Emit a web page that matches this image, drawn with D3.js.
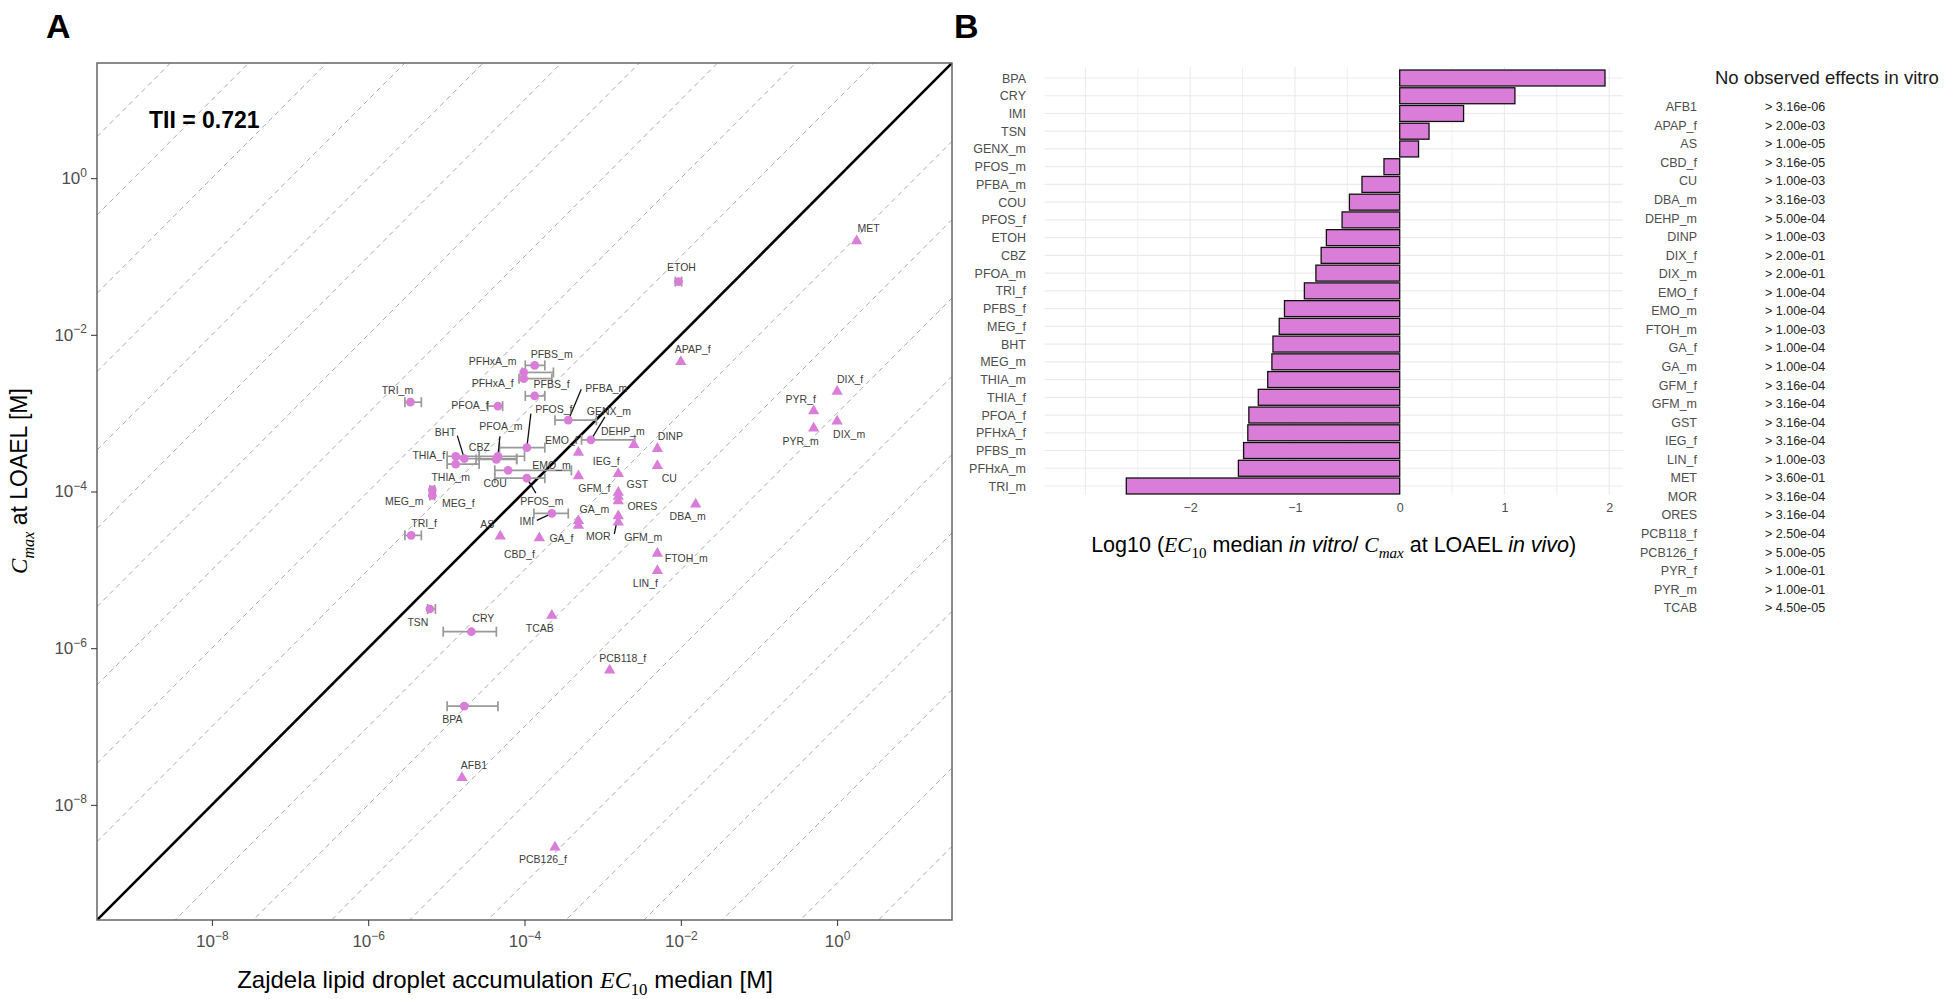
<!DOCTYPE html>
<html>
<head>
<meta charset="utf-8">
<script src="https://cdn.jsdelivr.net/npm/d3@7"></script>
<style>
  body { margin: 0; background: #fff; }
  svg { display: block; font-family: "Liberation Sans", Arial, sans-serif; }
</style>
</head>
<body>
<svg id="chart" width="1944" height="999"></svg>
<script>
/* ---- 数据：A 面板（log10 值，读图所得） ---- */
// 有体外效应的物质：圆点 + 水平误差线
const circleNames = ["TRI_m","PFOA_f","PFBS_m","PFHxA_m","PFHxA_f","PFBS_f","PFBA_m","PFOS_f","GENX_m",
  "PFOA_m","CBZ","BHT","THIA_f","THIA_m","COU","PFOS_m","MEG_m","MEG_f","TRI_f","IMI","ETOH","TSN","CRY","BPA"];
const circleEC10 = [-5.46,-4.34,-3.87,-4.01,-4.01,-3.87,-3.44,-3.97,-3.15,
  -4.34,-4.36,-4.77,-4.88,-4.88,-4.21,-3.97,-5.18,-5.18,-5.45,-3.65,-2.03,-5.21,-4.68,-4.77];
const circleCmax = [-2.86,-2.91,-2.39,-2.48,-2.56,-2.78,-3.09,-3.44,-3.34,
  -3.55,-3.59,-3.58,-3.55,-3.65,-3.73,-3.83,-3.98,-4.05,-4.56,-4.28,-1.32,-5.50,-5.79,-6.74];
const circleLow = [-5.53,-4.47,-3.99,-4.03,-4.07,-3.99,-3.61,-4.32,-3.27,
  -4.58,-4.62,-4.87,-4.99,-4.99,-4.38,-4.38,-5.21,-5.21,-5.53,-3.88,-2.07,-5.24,-5.04,-4.99];
const circleHigh = [-5.32,-4.28,-3.74,-3.63,-3.65,-3.74,-3.08,-3.74,-2.59,
  -4.00,-4.10,-4.10,-4.58,-4.58,-3.40,-3.74,-5.15,-5.15,-5.32,-3.44,-1.99,-5.14,-4.36,-4.34];

// 无体外效应的物质：三角
const triNames = ["AFB1","APAP_f","AS","CBD_f","CU","DBA_m","DEHP_m","DINP","DIX_f","DIX_m","EMO_f","EMO_m",
  "FTOH_m","GA_f","GA_m","GFM_f","GFM_m","GST","IEG_f","LIN_f","MET","MOR","ORES","PCB118_f","PCB126_f",
  "PYR_f","PYR_m","TCAB"];
const triEC10 = [-4.80,-2.00,-4.31,-3.81,-2.30,-1.81,-2.60,-2.30,0.00,0.00,-3.31,-3.31,
  -2.30,-3.31,-3.31,-2.80,-2.80,-2.80,-2.80,-2.30,0.25,-2.80,-2.80,-2.91,-3.61,
  -0.30,-0.30,-3.65];
const triCmax = [-7.64,-2.33,-4.56,-4.58,-3.66,-4.15,-3.39,-3.44,-2.71,-3.09,-3.49,-3.79,
  -4.78,-4.42,-4.36,-4.05,-4.38,-4.00,-3.76,-5.00,-0.79,-4.30,-4.11,-6.27,-8.53,
  -2.96,-3.18,-5.57];

const tiiText = "TII = 0.721";
const logTicks = [-8, -6, -4, -2, 0];

/* ---- 数据：B 面板 ---- */
const barNames = ["BPA","CRY","IMI","TSN","GENX_m","PFOS_m","PFBA_m","COU","PFOS_f","ETOH","CBZ","PFOA_m",
  "TRI_f","PFBS_f","MEG_f","BHT","MEG_m","THIA_m","THIA_f","PFOA_f","PFHxA_f","PFBS_m","PFHxA_m","TRI_m"];
const barValues = [1.96,1.10,0.61,0.28,0.18,-0.15,-0.36,-0.48,-0.55,-0.70,-0.75,-0.80,
  -0.91,-1.10,-1.15,-1.21,-1.22,-1.26,-1.35,-1.44,-1.45,-1.49,-1.54,-2.61];
const barTicks = [-2, -1, 0, 1, 2];

const noEffectNames = ["AFB1","APAP_f","AS","CBD_f","CU","DBA_m","DEHP_m","DINP","DIX_f","DIX_m","EMO_f",
  "EMO_m","FTOH_m","GA_f","GA_m","GFM_f","GFM_m","GST","IEG_f","LIN_f","MET","MOR","ORES","PCB118_f",
  "PCB126_f","PYR_f","PYR_m","TCAB"];
const noEffectValues = ["> 3.16e-06","> 2.00e-03","> 1.00e-05","> 3.16e-05","> 1.00e-03","> 3.16e-03",
  "> 5.00e-04","> 1.00e-03","> 2.00e-01","> 2.00e-01","> 1.00e-04","> 1.00e-04","> 1.00e-03","> 1.00e-04",
  "> 1.00e-04","> 3.16e-04","> 3.16e-04","> 3.16e-04","> 3.16e-04","> 1.00e-03","> 3.60e-01","> 3.16e-04",
  "> 3.16e-04","> 2.50e-04","> 5.00e-05","> 1.00e-01","> 1.00e-01","> 4.50e-05"];

/* ---- 标签摆放（像素偏移，仿 ggrepel 结果） ---- */
const labelOffset = {
  TRI_m:[-13,-12], PFHxA_m:[-31,-11], PFBS_m:[17,-11], PFHxA_f:[-31,5], PFBS_f:[17,-12], PFOA_f:[-28,-1],
  PFBA_m:[38,-32], PFOS_f:[27,-38], GENX_m:[18,-28], DEHP_m:[-11,-12], DINP:[13,-11], EMO_f:[-17,-11],
  PFOA_m:[3,-30], BHT:[-19,-26], CBZ:[-17,-12], THIA_f:[-27,-1], THIA_m:[-5,13], COU:[-13,13],
  EMO_m:[-27,-10], IEG_f:[-12,-11], CU:[12,13], GST:[19,-7], GFM_f:[-24,-7], ORES:[24,6], PFOS_m:[15,23],
  MEG_m:[-28,11], MEG_f:[26,8], DBA_m:[-8,13], GA_m:[16,-10], IMI:[-25,8], TRI_f:[13,-12], AS:[-13,-11],
  GA_f:[-17,14], CBD_f:[-20,17], MOR:[-20,21], GFM_m:[25,16], FTOH_m:[29,6], LIN_f:[-12,13],
  APAP_f:[12,-11], TSN:[-12,13], CRY:[12,-13], TCAB:[-12,14], PCB118_f:[13,-11], BPA:[-12,13],
  AFB1:[12,-11], PCB126_f:[-12,13], MET:[12,-12], DIX_f:[13,-11], DIX_m:[12,14], PYR_f:[-13,-11],
  PYR_m:[-13,14], ETOH:[3,-14]
};
const leaderEnd = {
  PFBA_m:[13,-31], PFOS_f:[4,-34], GENX_m:[14,-23], PFOA_m:[2,-20], BHT:[-7,-23],
  PFOS_m:[9,15], IMI:[-15,7], MOR:[-4,19]
};

const PINK = "#DA7DD8";
const svg = d3.select("#chart");
svg.append("rect").attr("width", 1944).attr("height", 999).attr("fill", "#fff");

/* ======================= A ======================= */
const A = { l: 97, r: 952, t: 63, b: 920 };
const lim = [Math.pow(10, -9.47), Math.pow(10, 1.47)];
const x = d3.scaleLog().domain(lim).range([A.l, A.r]);
const y = d3.scaleLog().domain(lim).range([A.b, A.t]);
const p10 = (v) => Math.pow(10, v);

svg.append("defs").append("clipPath").attr("id", "clipA")
  .append("rect").attr("x", A.l).attr("y", A.t).attr("width", A.r - A.l).attr("height", A.b - A.t);

const gA = svg.append("g");
const plotA = gA.append("g").attr("clip-path", "url(#clipA)");

// 斜向参考线：y = x · 10^k
d3.range(-10, 11).filter((k) => k !== 0).forEach((k) => {
  plotA.append("line")
    .attr("x1", x(lim[0])).attr("y1", y(lim[0] * p10(k)))
    .attr("x2", x(lim[1])).attr("y2", y(lim[1] * p10(k)))
    .attr("stroke", "#aaa").attr("stroke-width", 1).attr("stroke-dasharray", "5,4");
});
plotA.append("line")
  .attr("x1", x(lim[0])).attr("y1", y(lim[0])).attr("x2", x(lim[1])).attr("y2", y(lim[1]))
  .attr("stroke", "#000").attr("stroke-width", 2.6);

// 误差线
circleNames.forEach((n, i) => {
  const cy = y(p10(circleCmax[i])), x0 = x(p10(circleLow[i])), x1 = x(p10(circleHigh[i]));
  const g = plotA.append("g").attr("stroke", "#999").attr("stroke-width", 1.7);
  g.append("line").attr("x1", x0).attr("x2", x1).attr("y1", cy).attr("y2", cy);
  g.append("line").attr("x1", x0).attr("x2", x0).attr("y1", cy - 5).attr("y2", cy + 5);
  g.append("line").attr("x1", x1).attr("x2", x1).attr("y1", cy - 5).attr("y2", cy + 5);
});

// 合并点数据，便于画标签
const pts = circleNames.map((n, i) => ({ n, px: x(p10(circleEC10[i])), py: y(p10(circleCmax[i])), shape: "c" }))
  .concat(triNames.map((n, i) => ({ n, px: x(p10(triEC10[i])), py: y(p10(triCmax[i])), shape: "t" })));

// 引线
pts.filter((d) => leaderEnd[d.n]).forEach((d) => {
  const e = leaderEnd[d.n];
  plotA.append("line").attr("x1", d.px).attr("y1", d.py).attr("x2", d.px + e[0]).attr("y2", d.py + e[1])
    .attr("stroke", "#111").attr("stroke-width", 1.3);
});

// 点
plotA.selectAll("path.pt").data(pts).join("path").attr("class", "pt")
  .attr("transform", (d) => `translate(${d.px},${d.py + (d.shape === "t" ? 1 : 0)})`)
  .attr("d", (d) => d3.symbol().type(d.shape === "c" ? d3.symbolCircle : d3.symbolTriangle).size(d.shape === "c" ? 60 : 55)())
  .attr("fill", PINK);

// 标签
plotA.selectAll("text.lab").data(pts).join("text").attr("class", "lab")
  .attr("x", (d) => d.px + labelOffset[d.n][0]).attr("y", (d) => d.py + labelOffset[d.n][1])
  .attr("text-anchor", "middle").attr("dy", "0.35em")
  .attr("fill", "#3d3d3d").style("font-size", "10.5px").text((d) => d.n);

// 边框
gA.append("rect").attr("x", A.l).attr("y", A.t).attr("width", A.r - A.l).attr("height", A.b - A.t)
  .attr("fill", "none").attr("stroke", "#666").attr("stroke-width", 1.5);

// 坐标轴（10 的幂标签）
function powLabels(g) {
  g.select(".domain").remove();
  g.selectAll(".tick line").attr("stroke", "#333");
  g.selectAll(".tick text").each(function (d) {
    const e = Math.round(Math.log10(d));
    const t = d3.select(this).text(null).attr("fill", "#4d4d4d").style("font-size", "17px");
    t.append("tspan").text("10");
    t.append("tspan").attr("dy", "-0.62em").style("font-size", "12px").text(e === 0 ? "0" : "\u2212" + (-e));
  });
}
gA.append("g").attr("transform", `translate(${A.l},0)`)
  .call(d3.axisLeft(y).tickValues(logTicks.map(p10)).tickSize(6).tickPadding(4))
  .call(powLabels).selectAll("text").attr("font-family", "Liberation Sans, Arial, sans-serif");
gA.append("g").attr("transform", `translate(0,${A.b})`)
  .call(d3.axisBottom(x).tickValues(logTicks.map(p10)).tickSize(6).tickPadding(9))
  .call(powLabels).selectAll("text").attr("font-family", "Liberation Sans, Arial, sans-serif");

// 富文本（斜体/下标）
function rich(sel, parts, size) {
  let shift = 0;
  parts.forEach((p) => {
    const s = p.sub ? size * 0.3 : 0;
    const ts = sel.append("tspan").text(p.t).attr("dy", s - shift);
    shift = s;
    if (p.sub) ts.style("font-size", size * 0.7 + "px");
    if (p.it) ts.style("font-style", "italic");
    if (p.serif) ts.style("font-family", "'Liberation Serif', 'DejaVu Serif', serif");
  });
}

const xTitle = svg.append("text").attr("x", 505).attr("y", 988).attr("text-anchor", "middle")
  .style("font-size", "24px").attr("fill", "#000");
rich(xTitle, [
  { t: "Zajdela lipid droplet accumulation " }, { t: "EC", it: 1, serif: 1 }, { t: "10", sub: 1, serif: 1 },
  { t: " median [M]" }], 24);

const yTitle = svg.append("text").attr("transform", "translate(27,481) rotate(-90)")
  .attr("text-anchor", "middle").attr("dy", "0.35em").style("font-size", "23px").attr("fill", "#000");
rich(yTitle, [
  { t: "C", it: 1, serif: 1 }, { t: "max", it: 1, serif: 1, sub: 1 }, { t: " at LOAEL [M]" }], 23);

svg.append("text").attr("x", 149).attr("y", 128).style("font-size", "23px").style("font-weight", "bold")
  .attr("fill", "#000").text(tiiText);

svg.append("text").attr("x", 46).attr("y", 38).style("font-size", "34px").style("font-weight", "bold").text("A");
svg.append("text").attr("x", 954).attr("y", 38).style("font-size", "34px").style("font-weight", "bold").text("B");

/* ======================= B ======================= */
const B = { l: 1044.6, r: 1622.8, t: 67, b: 495 };
const xb = d3.scaleLinear().domain([-3.39, 2.13]).range([B.l, B.r]);
const yb = d3.scalePoint().domain(barNames).range([78, 486]);
const gB = svg.append("g");

// 网格
gB.selectAll("line.vg").data(d3.range(-3, 2.01, 0.5)).join("line").attr("class", "vg")
  .attr("x1", (d) => xb(d)).attr("x2", (d) => xb(d)).attr("y1", B.t).attr("y2", B.b)
  .attr("stroke", "#ebebeb").attr("stroke-width", (d) => (Number.isInteger(d) ? 1.2 : 0.8));
gB.selectAll("line.hg").data(barNames).join("line").attr("class", "hg")
  .attr("x1", B.l).attr("x2", B.r).attr("y1", (d) => yb(d)).attr("y2", (d) => yb(d))
  .attr("stroke", "#ebebeb").attr("stroke-width", 1.2);

// 条形
const bh = yb.step() * 0.9;
gB.selectAll("rect.bar").data(barNames).join("rect").attr("class", "bar")
  .attr("x", (d, i) => xb(Math.min(0, barValues[i])))
  .attr("width", (d, i) => Math.abs(xb(barValues[i]) - xb(0)))
  .attr("y", (d) => yb(d) - bh / 2).attr("height", bh)
  .attr("fill", PINK).attr("stroke", "#111").attr("stroke-width", 1.3);

// 轴
gB.append("g").attr("transform", `translate(0,${B.b})`)
  .call(d3.axisBottom(xb).tickValues(barTicks).tickSize(0).tickPadding(8).tickFormat(d3.format("d")))
  .call((g) => g.select(".domain").remove())
  .selectAll("text").attr("fill", "#4d4d4d").style("font-size", "12.5px");
gB.append("g").attr("transform", `translate(${B.l},0)`)
  .call(d3.axisLeft(yb).tickSize(0).tickPadding(18.6))
  .call((g) => g.select(".domain").remove())
  .selectAll("text").attr("fill", "#4d4d4d").style("font-size", "12.5px");

const bTitle = svg.append("text").attr("x", (B.l + B.r) / 2).attr("y", 552).attr("text-anchor", "middle")
  .style("font-size", "21.5px").attr("fill", "#000");
rich(bTitle, [
  { t: "Log10 (" }, { t: "EC", it: 1, serif: 1 }, { t: "10", sub: 1, serif: 1 }, { t: " median " },
  { t: "in vitro", it: 1 }, { t: "/ " }, { t: "C", it: 1, serif: 1 }, { t: "max", it: 1, serif: 1, sub: 1 },
  { t: " at LOAEL " }, { t: "in vivo", it: 1 }, { t: ")" }], 21.5);

// 右侧表：无体外效应
const yt = d3.scalePoint().domain(noEffectNames).range([106.8, 607.9]);
const gT = svg.append("g");
gT.append("text").attr("x", 1715).attr("y", 78).attr("dy", "0.35em").style("font-size", "18.5px")
  .attr("fill", "#1a1a1a").text("No observed effects in vitro");
gT.selectAll("text.tn").data(noEffectNames).join("text").attr("class", "tn")
  .attr("x", 1697).attr("y", (d) => yt(d)).attr("dy", "0.35em").attr("text-anchor", "end")
  .attr("fill", "#4d4d4d").style("font-size", "12.5px").text((d) => d);
gT.selectAll("text.tv").data(noEffectValues).join("text").attr("class", "tv")
  .attr("x", 1765).attr("y", (d, i) => yt(noEffectNames[i])).attr("dy", "0.35em")
  .attr("fill", "#222").style("font-size", "12.5px").text((d) => d);
</script>
</body>
</html>
